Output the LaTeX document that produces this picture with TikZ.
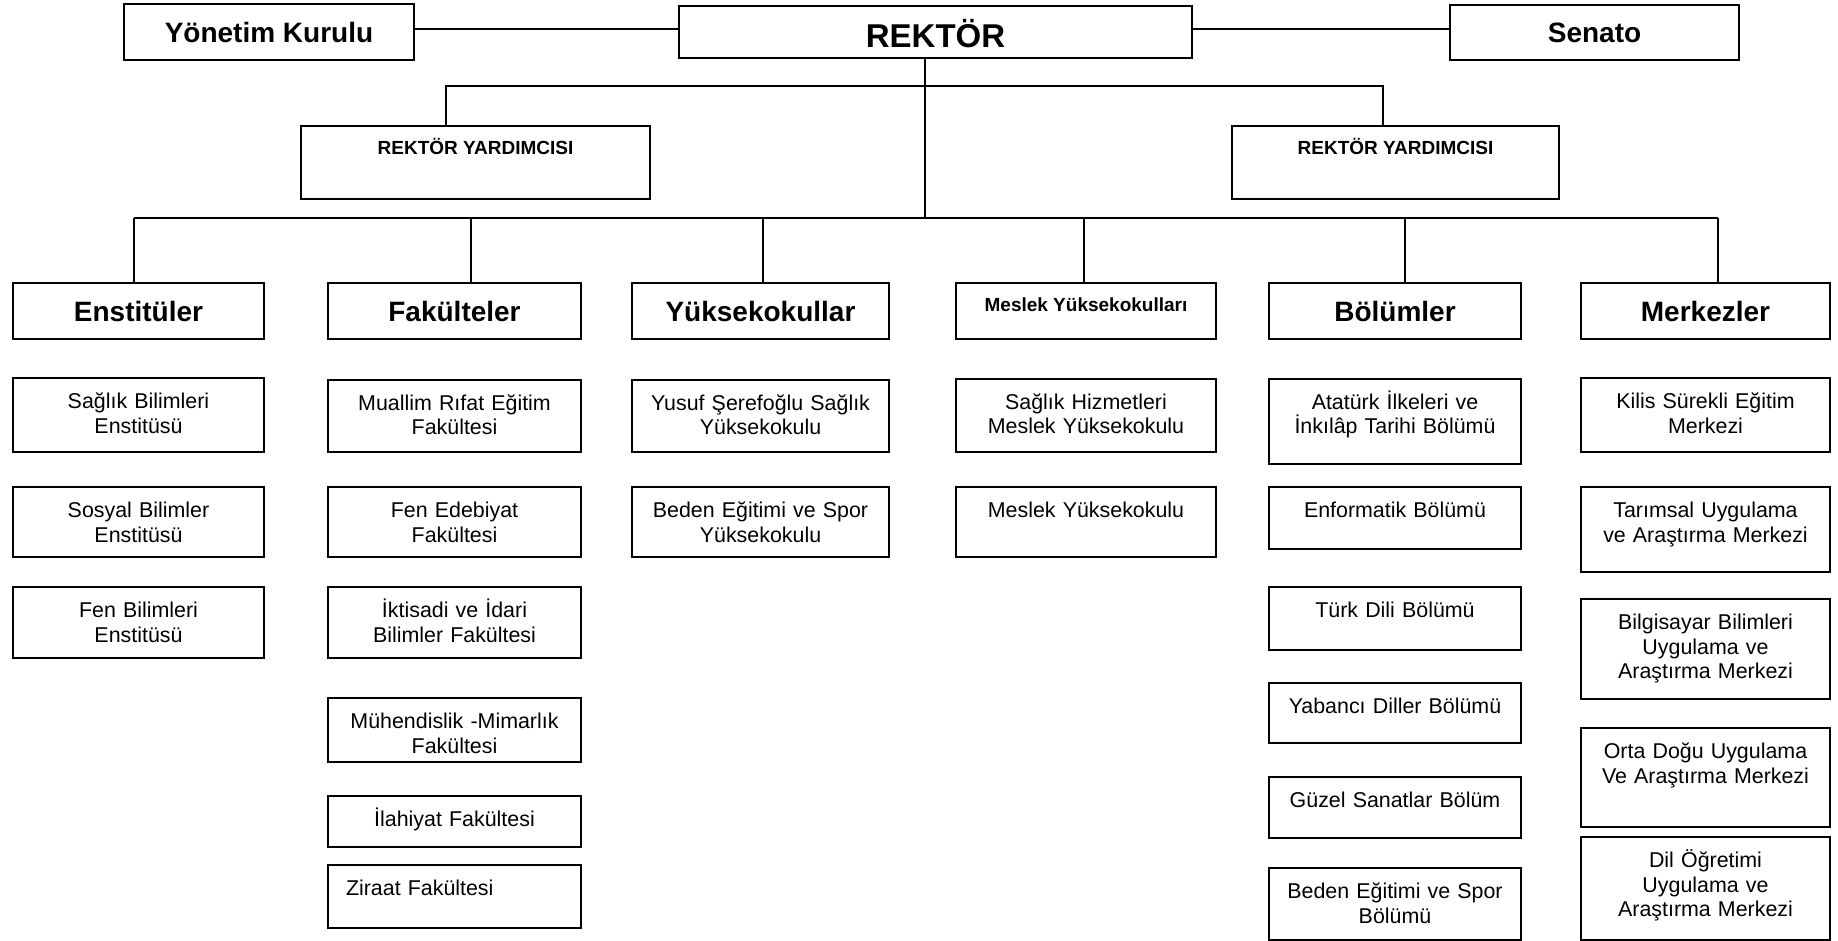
\documentclass[tikz,border=0pt]{standalone}
\usepackage{fontspec}
\setmainfont{Liberation Sans}
\begin{document}
\begin{tikzpicture}[x=0.5pt,y=-0.5pt,
  box/.style={draw,line width=1.1pt,anchor=north},
  head/.style={box,inner sep=0pt,minimum height=28pt,text height=10pt,text depth=0pt,font=\fontsize{14}{16}\selectfont\bfseries},
  smallhead/.style={box,inner xsep=3pt,inner ysep=7pt,text height=7.3pt,align=center,font=\fontsize{9.5}{11}\selectfont\bfseries},
  unit/.style={box,inner xsep=3pt,inner ysep=7pt,text height=8.15pt,text width=116pt,align=center,font=\fontsize{10.7}{12.3}\selectfont},
  link/.style={line width=1pt},
  busline/.style={line width=1.3pt}]
\useasboundingbox (0,0) rectangle (1838,941);
% Top row
\node[head,minimum width=145pt] (board) at (269,3) {Yönetim Kurulu};
\node[head,minimum width=256.5pt,minimum height=26pt,text height=15.3pt,font=\fontsize{16.5}{18}\selectfont\bfseries] (rector) at (935.5,5) {REKTÖR};
\node[head,minimum width=144.5pt,minimum height=27.5pt] (senate) at (1594.5,4) {Senato};
\draw[link] ([yshift=1.5pt]board.east) -- ([yshift=1.5pt]board.east -| rector.west);
\draw[link] ([yshift=1.5pt]board.east -| rector.east) -- ([yshift=1.5pt]board.east -| senate.west);
% Vice rectors
\node[smallhead,minimum width=174.5pt,text depth=15.2pt] (vrl) at (475.5,125) {REKTÖR YARDIMCISI};
\node[smallhead,minimum width=163.5pt,text depth=15.2pt] (vrr) at (1395.5,125) {REKTÖR YARDIMCISI};
\coordinate (vbus) at (925,86);
\coordinate (bus) at (925,218);
\draw[link] ([xshift=-14.75pt]vrl.north) |- (vbus) -| ([xshift=-6.25pt]vrr.north);
\draw[link] ([xshift=-5.25pt]rector.south) |- (bus);
% Enstituler
\begin{scope}[every node/.append style={minimum width=125.5pt}]
\node[head] (ens) at (138.5,282) {Enstitüler};
\node[unit,text depth=14.85pt] (ens1) at (138.5,377) {Sağlık Bilimleri\\Enstitüsü};
\node[unit,text depth=12.85pt] (ens2) at (138.5,486) {Sosyal Bilimler\\Enstitüsü};
\node[unit,text depth=13.35pt] (ens3) at (138.5,586) {Fen Bilimleri\\Enstitüsü};
\end{scope}
% Fakulteler
\begin{scope}[every node/.append style={minimum width=126.5pt}]
\node[head] (fak) at (454.5,282) {Fakülteler};
\node[unit,text depth=13.85pt] (fak1) at (454.5,379) {Muallim Rıfat Eğitim\\Fakültesi};
\node[unit,text depth=12.85pt] (fak2) at (454.5,486) {Fen Edebiyat\\Fakültesi};
\node[unit,text depth=13.35pt] (fak3) at (454.5,586) {İktisadi ve İdari\\Bilimler Fakültesi};
\node[unit,text depth=9.85pt] (fak4) at (454.5,697) {Mühendislik -Mimarlık\\Fakültesi};
\node[unit,text depth=3.35pt] (fak5) at (454.5,795) {İlahiyat Fakültesi};
\node[unit,text depth=9.35pt,text width=108.5pt,align=left] (fak6) at (454.5,864) {Ziraat Fakültesi};
\end{scope}
% Yuksekokullar
\begin{scope}[every node/.append style={minimum width=128.5pt}]
\node[head] (yuk) at (760.5,282) {Yüksekokullar};
\node[unit,text depth=13.85pt] (yuk1) at (760.5,379) {Yusuf Şerefoğlu Sağlık\\Yüksekokulu};
\node[unit,text depth=12.85pt] (yuk2) at (760.5,486) {Beden Eğitimi ve Spor\\Yüksekokulu};
\end{scope}
% Meslek Yuksekokullari
\begin{scope}[every node/.append style={minimum width=130pt}]
\node[smallhead,text depth=6.7pt] (mes) at (1086,282) {Meslek Yüksekokulları};
\node[unit,text depth=14.35pt] (mes1) at (1086,378) {Sağlık Hizmetleri\\Meslek Yüksekokulu};
\node[unit,text depth=12.85pt] (mes2) at (1086,486) {Meslek Yüksekokulu};
\end{scope}
% Bolumler
\begin{scope}[every node/.append style={minimum width=126pt}]
\node[head] (bol) at (1395,282) {Bölümler};
\node[unit,text depth=20.35pt] (bol1) at (1395,378) {Atatürk İlkeleri ve\\İnkılâp Tarihi Bölümü};
\node[unit,text depth=8.85pt] (bol2) at (1395,486) {Enformatik Bölümü};
\node[unit,text depth=9.35pt] (bol3) at (1395,586) {Türk Dili Bölümü};
\node[unit,text depth=7.85pt] (bol4) at (1395,682) {Yabancı Diller Bölümü};
\node[unit,text depth=8.35pt] (bol5) at (1395,776) {Güzel Sanatlar Bölüm};
\node[unit,text depth=13.85pt] (bol6) at (1395,867) {Beden Eğitimi ve Spor\\Bölümü};
\end{scope}
% Merkezler
\begin{scope}[every node/.append style={minimum width=124.5pt}]
\node[head] (mer) at (1705.5,282) {Merkezler};
\node[unit,text depth=14.85pt] (mer1) at (1705.5,377) {Kilis Sürekli Eğitim\\Merkezi};
\node[unit,text depth=20.35pt] (mer2) at (1705.5,486) {Tarımsal Uygulama\\ve Araştırma Merkezi};
\node[unit,text depth=27.85pt] (mer3) at (1705.5,598) {Bilgisayar Bilimleri\\Uygulama ve\\Araştırma Merkezi};
\node[unit,text depth=27.35pt] (mer4) at (1705.5,727) {Orta Doğu Uygulama\\Ve Araştırma Merkezi};
\node[unit,text depth=29.35pt] (mer5) at (1705.5,836) {Dil Öğretimi\\Uygulama ve\\Araştırma Merkezi};
\end{scope}
% Main bus and drops
\draw[busline] ([xshift=-2.25pt]ens.north |- bus) -- ([xshift=6.25pt]mer.north |- bus);
\draw[link] ([xshift=-2.25pt]ens.north) -- ([xshift=-2.25pt]ens.north |- bus);
\draw[link] ([xshift=8.25pt]fak.north) -- ([xshift=8.25pt]fak.north |- bus);
\draw[link] ([xshift=1.25pt]yuk.north) -- ([xshift=1.25pt]yuk.north |- bus);
\draw[link] ([xshift=-1pt]mes.north) -- ([xshift=-1pt]mes.north |- bus);
\draw[link] ([xshift=5pt]bol.north) -- ([xshift=5pt]bol.north |- bus);
\draw[link] ([xshift=6.25pt]mer.north) -- ([xshift=6.25pt]mer.north |- bus);
\end{tikzpicture}
\end{document}
